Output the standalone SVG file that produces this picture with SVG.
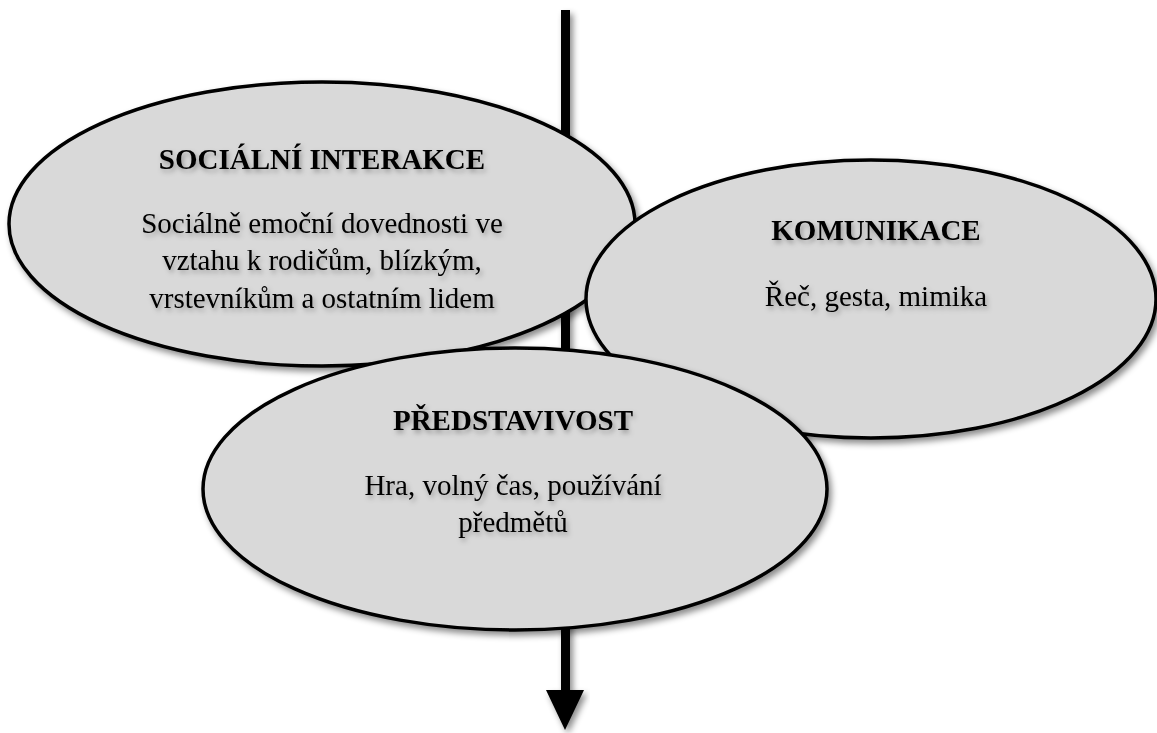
<svg xmlns="http://www.w3.org/2000/svg" width="1157" height="733" viewBox="0 0 1157 733">
  <defs>
    <filter id="shade" x="-10%" y="-10%" width="125%" height="130%">
      <feDropShadow dx="3" dy="4" stdDeviation="3" flood-color="#000" flood-opacity="0.45"/>
    </filter>
    <filter id="textShade" x="-5%" y="-30%" width="115%" height="170%">
      <feDropShadow dx="2" dy="3" stdDeviation="2.5" flood-color="#000" flood-opacity="0.3"/>
    </filter>
  </defs>
  <style>
    .bubble { fill: #d9d9d9; stroke: #000; stroke-width: 3.5; filter: url(#shade); }
    .title { font-family: "Liberation Serif", "Times New Roman", serif; font-size: 29px; font-weight: bold; text-anchor: middle; fill: #000; filter: url(#textShade); }
    .body { font-family: "Liberation Serif", "Times New Roman", serif; font-size: 29px; text-anchor: middle; fill: #000; filter: url(#textShade); }
  </style>
  <rect width="1157" height="733" fill="#fff"/>

  <!-- vertical timeline arrow running behind the bubbles -->
  <g id="connectors">
    <path d="M561 10 H570 V690 H584 L565 730 L546 690 H561 Z" fill="#000" filter="url(#shade)"/>
  </g>

  <g id="social">
    <ellipse class="bubble" cx="322" cy="224" rx="313" ry="142"/>
    <text class="title" x="322" y="169">SOCIÁLNÍ INTERAKCE</text>
    <text class="body" x="322" y="233">Sociálně emoční dovednosti ve</text>
    <text class="body" x="322" y="270">vztahu k rodičům, blízkým,</text>
    <text class="body" x="322" y="308">vrstevníkům a ostatním lidem</text>
  </g>

  <g id="communication">
    <ellipse class="bubble" cx="871" cy="299" rx="285" ry="139"/>
    <text class="title" x="876" y="240">KOMUNIKACE</text>
    <text class="body" x="876" y="306">Řeč, gesta, mimika</text>
  </g>

  <g id="imagination">
    <ellipse class="bubble" cx="515" cy="489" rx="312" ry="141"/>
    <text class="title" x="513" y="430">PŘEDSTAVIVOST</text>
    <text class="body" x="513" y="495">Hra, volný čas, používání</text>
    <text class="body" x="513" y="532">předmětů</text>
  </g>
</svg>
